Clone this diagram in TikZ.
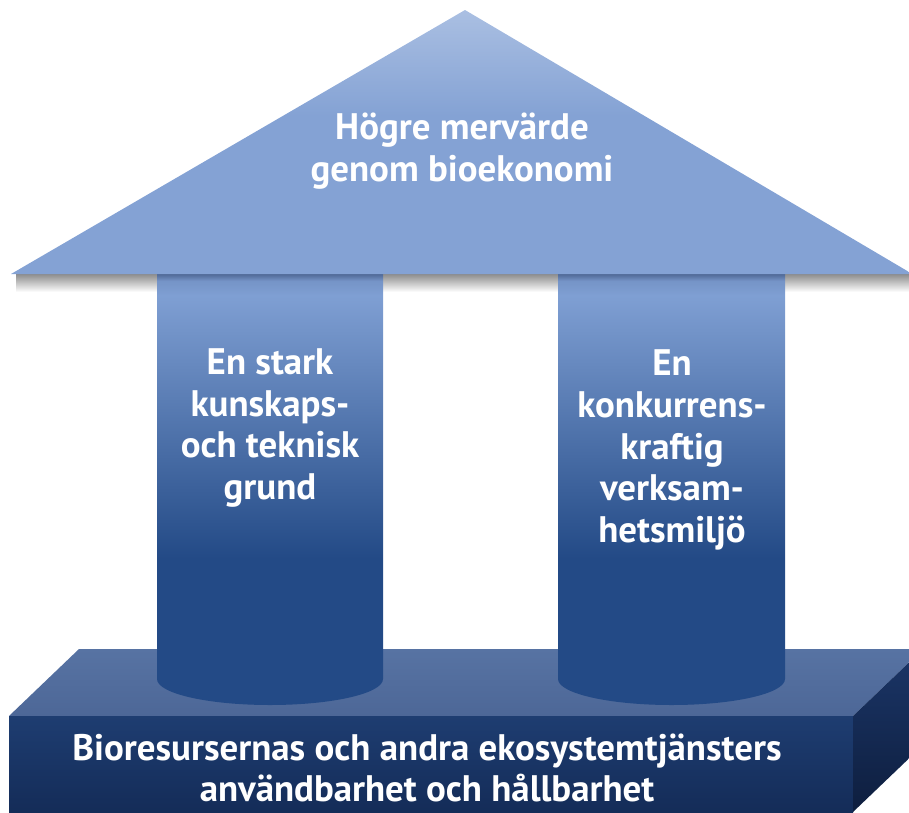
\documentclass[tikz,border=0pt]{standalone}
\usepackage{fontspec}
\setmainfont{PT Sans}
\definecolor{roofhi}{HTML}{AABFE2}
\definecolor{roofc}{HTML}{84A2D4}
\definecolor{plight}{HTML}{7F9FD3}
\definecolor{pshadow}{HTML}{4F6896}
\definecolor{pdark}{HTML}{234A86}
\definecolor{btop}{HTML}{5773A3}
\definecolor{btopb}{HTML}{4D6797}
\definecolor{bfront}{HTML}{1E3D71}
\definecolor{bfrontb}{HTML}{142C58}
\definecolor{bside}{HTML}{1B3668}
\definecolor{bsideb}{HTML}{0E1E3E}
\pgfdeclareverticalshading{pillarshade}{100bp}{color(0bp)=(pdark); color(42bp)=(pdark); color(72.5bp)=(plight); color(74.2bp)=(plight!80!pshadow); color(75bp)=(pshadow); color(100bp)=(pshadow)}
\pgfdeclareverticalshading{roofshade}{100bp}{color(0bp)=(roofc); color(55bp)=(roofc); color(75bp)=(roofhi); color(100bp)=(roofhi)}
\tikzset{
  lbl/.style={text=white, font=\bfseries\fontsize{21}{23.8}\selectfont, align=center, inner sep=0pt},
  pillar/.style={shading=pillarshade}
}
\begin{document}
\begin{tikzpicture}[x=0.02cm, y=-0.02cm]
\useasboundingbox (0,0) rectangle (909,812);
\clip (0,0) rectangle (909,812);
% base
\shade[top color=btop, bottom color=btopb] (9,716) -- (79,649) -- (923,649) -- (853,716) -- cycle;
\shade[top color=bfront, bottom color=bfrontb] (9,716) rectangle (853,812);
\shade[top color=bside, bottom color=bsideb] (853,716) -- (923,649) -- (923,745) -- (853,812) -- cycle;
% shadow under the roof
\shade[top color=black!45, bottom color=white] (16,274) rectangle (909,292);
% pillars
\shade[pillar] (157,274) -- (157,679) arc[start angle=180, end angle=360, x radius=113, y radius=-26] -- (383,274) -- cycle;
\shade[pillar] (558,274) -- (558,679) arc[start angle=180, end angle=360, x radius=113.5, y radius=-26] -- (785,274) -- cycle;
% roof
\shade[shading=roofshade] (465,10) -- (909,272) -- (909,274) -- (11,274) -- cycle;
% texts
\node[lbl] (goal) at (462,151) {Högre mervärde\\genom bioekonomi};
\node[lbl] (kunskap) at (270,428) {En stark\\kunskaps-\\och teknisk\\grund};
\node[lbl] (konkurrens) at (672,450) {En\\konkurrens-\\kraftig\\verksam-\\hetsmiljö};
\node[lbl] (bioresurs) at (427,768) {Bioresursernas och andra ekosystemtjänsters\\användbarhet och hållbarhet};
\end{tikzpicture}
\end{document}
